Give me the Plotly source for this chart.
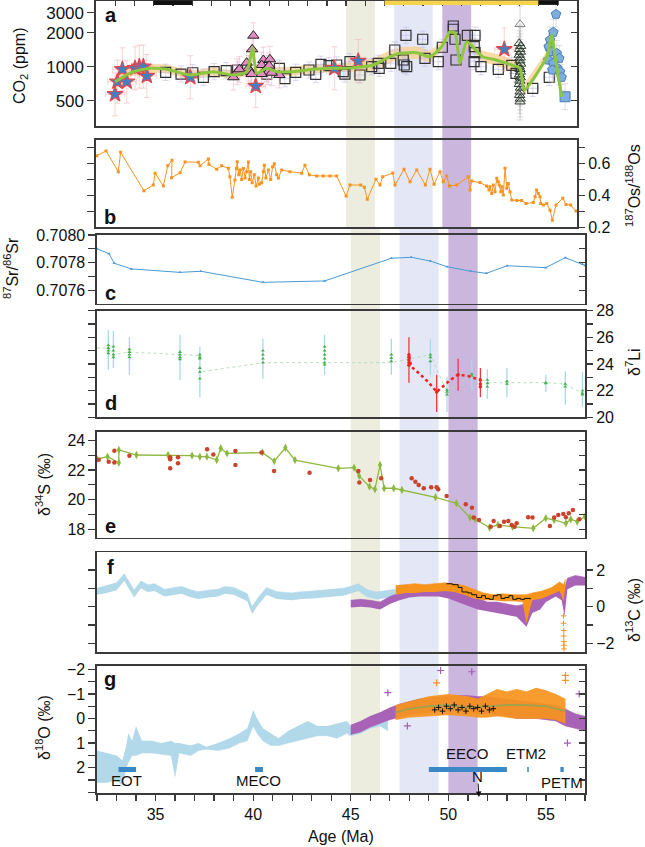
import plotly.graph_objects as go

W, H = 645, 847
FONT = "Liberation Sans, Arial, Helvetica, sans-serif"
AX = "#3a3a3a"

# ---------------- data ----------------
age_range = [32, 57]
bands = [(45.0, 46.5, "#ededdf"), (47.5, 49.5, "#e4e7f6"), (50.0, 51.5, "#cbb7de")]

# panel a: CO2 (ppm)
sq_age = [35.62, 36.42, 37.03, 37.58, 38.14, 38.77, 39.36, 40.87, 41.53, 41.82, 42.38, 43.07, 43.42, 43.69,
          44.11, 44.51, 44.85, 44.94, 45.20, 45.72, 46.33, 46.67, 46.72, 47.32, 47.53, 47.97, 48.02, 48.15,
          48.11, 48.98, 49.1, 49.79, 50.0, 50.57, 50.57, 50.66, 50.71, 51.30, 51.70, 51.66, 51.7, 51.65,
          52.01, 52.91, 53.61, 53.83, 54.70, 55.56]
sq_co2 = [892, 861, 884, 806, 903, 922, 935, 861, 968, 783, 892, 935, 856, 1050, 1020, 1035, 903, 861, 1107,
          844, 1000, 1072, 968, 1072, 1406, 1146, 1035, 1000, 1897, 1749, 1187, 1107, 1486, 2293, 2145, 1749,
          1146, 1897, 1897, 1503, 1330, 1107, 1000, 948, 1029, 874, 644, 806]
st_age = [32.99, 33.11, 33.37, 33.6, 34.03, 34.25, 34.46, 34.64, 36.9, 40.3, 44.39, 45.63, 53.22]
st_co2 = [570, 736, 948, 736, 968, 1000, 1000, 827, 806, 675, 968, 1123, 1426]
pt_age = [40.18, 40.12, 39.83, 39.92, 40.04, 40.09, 40.70, 41.04, 40.61, 40.87, 40.96, 40.61, 41.0, 41.53,
          39.14, 39.34, 39.45, 41.13]
pt_co2 = [1882, 1426, 1085, 968, 903, 861, 1146, 1163, 1035, 968, 903, 861, 1020, 844, 806, 903, 948, 884]
ot_age = [54.04, 54.0, 54.07, 54.02, 54.06, 54.0, 54.05, 54.03, 54.07, 54.0, 54.04, 54.06, 54.01, 54.05,
          54.03, 54.0, 54.06, 54.04, 54.02, 54.05, 54.04]
ot_co2 = [2377, 1610, 1520, 1430, 1350, 1270, 1200, 1130, 1060, 1000, 950, 900, 850, 800, 750, 700, 650,
          600, 560, 520, 490]
bp_age = [55.91, 55.77, 55.6, 55.53, 55.65, 55.95, 56.08, 55.51, 55.77, 55.98, 56.12, 56.2, 55.72, 56.38]
bp_co2 = [2912, 2018, 1723, 1503, 1358, 1313, 1187, 1146, 1072, 968, 903, 806, 935, 542]
fit_age = [33.0, 33.5, 33.94, 34.8, 35.67, 36.9, 38.1, 39.14, 39.83, 40.14, 40.35, 40.87, 41.4, 42.26, 43.3,
           44.16, 44.5, 45.37, 46.41, 47.1, 47.8, 48.67, 49.36, 49.97, 50.4, 50.66, 50.92, 51.27, 52.1, 52.8,
           53.6, 54.04, 54.25, 55.43, 55.68, 55.9, 56.2]
fit_co2 = [736, 830, 903, 968, 948, 844, 903, 844, 903, 1455, 874, 968, 903, 903, 948, 968, 968, 980, 1035,
           1187, 1313, 1330, 1226, 1503, 2040, 1975, 1072, 1665, 1226, 1146, 1035, 968, 622, 1226, 1900, 1120, 542]
fit_hi = [800, 900, 980, 1050, 1040, 920, 980, 920, 1000, 1600, 960, 1060, 990, 990, 1040, 1060, 1060, 1080,
          1170, 1340, 1480, 1500, 1380, 1650, 2200, 2150, 1200, 1800, 1370, 1290, 1170, 1090, 700, 1350, 2050,
          1260, 600]
fit_lo = [680, 760, 830, 890, 870, 775, 830, 775, 830, 1320, 800, 890, 830, 830, 870, 890, 890, 900, 920,
          1050, 1160, 1170, 1090, 1370, 1890, 1830, 960, 1530, 1100, 1020, 920, 860, 560, 1110, 1750, 1000, 490]
sq_err, st_err, pt_err, ot_err, bp_err = 1.18, 1.55, 1.3, 1.45, 1.3   # multiplicative 1-sigma factors
sq_xerr, st_xerr = 0.3, 0.5

# panel b: 187Os/188Os
os_age = [32.04, 32.52, 33.16, 33.28, 34.49, 34.98, 35.07, 35.5, 35.73, 35.95, 35.93, 36.37, 36.63, 37.32,
          37.41, 37.84, 37.87, 38.27, 38.53, 38.88, 38.96, 39.08, 39.22, 39.3, 39.34, 39.42, 39.5, 39.57, 39.66,
          39.75, 39.83, 39.92, 39.97, 40.04, 40.12, 40.23, 40.32, 40.44, 40.49, 40.61, 40.7, 40.75, 40.83,
          40.96, 41.08, 41.18, 41.27, 41.39, 41.48, 41.65, 42.08, 42.69, 42.86, 43.09, 43.47, 43.81, 44.16,
          44.51, 45.0, 45.2, 45.76, 45.95, 46.1, 46.55, 46.76, 46.9, 47.42, 47.54, 48.01, 48.32, 48.67, 49.12,
          49.36, 49.57, 49.88, 50.05, 50.23, 50.37, 50.75, 51.35, 51.44, 51.53, 51.96, 52.3, 52.43, 52.48,
          52.57, 52.65, 52.74, 52.83, 52.91, 52.96, 53.04, 53.09, 53.17, 53.26, 53.35, 53.43, 53.52, 53.61,
          53.87, 54.12, 54.35, 54.73, 54.82, 54.9, 54.99, 55.08, 55.11, 55.25, 55.43, 55.6, 55.72, 55.91,
          56.26, 56.43, 56.67, 56.95]
os_val = [0.650, 0.680, 0.550, 0.672, 0.430, 0.466, 0.540, 0.460, 0.587, 0.621, 0.512, 0.543, 0.611, 0.609,
          0.587, 0.630, 0.596, 0.565, 0.587, 0.571, 0.518, 0.389, 0.497, 0.57, 0.612, 0.53, 0.56, 0.50, 0.57,
          0.51, 0.55, 0.61, 0.50, 0.55, 0.48, 0.53, 0.46, 0.51, 0.47, 0.48, 0.55, 0.59, 0.51, 0.56, 0.50, 0.58,
          0.60, 0.53, 0.51, 0.56, 0.55, 0.54, 0.59, 0.53, 0.523, 0.523, 0.523, 0.523, 0.397, 0.466, 0.466,
          0.452, 0.376, 0.502, 0.466, 0.518, 0.541, 0.466, 0.565, 0.487, 0.561, 0.466, 0.565, 0.470, 0.550,
          0.487, 0.523, 0.460, 0.466, 0.518, 0.434, 0.491, 0.481, 0.460, 0.434, 0.455, 0.413, 0.466, 0.424,
          0.508, 0.487, 0.466, 0.424, 0.455, 0.403, 0.571, 0.445, 0.476, 0.424, 0.371, 0.369, 0.369, 0.350,
          0.356, 0.392, 0.434, 0.413, 0.392, 0.350, 0.340, 0.350, 0.308, 0.245, 0.340, 0.382, 0.344, 0.340,
          0.302]

# panel c: 87Sr/86Sr
sr_age = [32.0, 32.62, 32.88, 33.76, 36.25, 37.32, 40.5, 43.66, 47.08, 48.1, 49.08, 49.93, 51.15, 51.94,
          53.01, 54.99, 55.99, 56.87, 57.0]
sr_val = [0.70790, 0.707865, 0.707796, 0.707755, 0.707730, 0.707738, 0.707658, 0.707668, 0.707832, 0.707839,
          0.707812, 0.707771, 0.707738, 0.707723, 0.707778, 0.707764, 0.707836, 0.707788, 0.707780]

# panel d: d7Li
li_age = [32.58, 32.84, 33.66, 36.25, 37.27, 40.5, 43.66, 47.08, 49.08, 49.93, 51.2, 52.0, 53.0, 54.99,
          55.99, 56.87]
li_vals = [[25.4, 25.2, 25.0, 24.8], [25.3, 25.0, 24.7, 24.5], [25.1, 24.9, 24.7, 24.5],
           [24.9, 24.7, 24.5, 24.35], [24.7, 24.5, 24.4, 23.7, 23.4, 22.9], [25.0, 24.7, 24.4, 24.1],
           [25.3, 25.0, 24.7, 24.4, 24.1, 23.95], [24.7, 24.45, 24.2], [24.7, 24.5, 24.2], [22.05, 21.9, 21.7],
           [23.25, 23.1], [22.8, 22.55, 22.3], [22.7, 22.5], [22.6, 22.55], [22.5, 22.3], [22.0, 21.8, 21.7]]
li_err_mid = [25.05, 25.1, 24.6, 24.5, 23.4, 24.4, 24.7, 24.55, 24.55, 21.7, 23.2, 22.5, 22.6, 22.55, 22.2, 22.1]
li_err = [1.5, 1.4, 1.4, 1.7, 1.9, 1.5, 1.5, 1.35, 1.35, 1.3, 1.2, 1.1, 1.1, 0.65, 1.25, 1.3]
li_line_age = [32.0, 32.58, 32.84, 33.66, 36.25, 37.27, 37.27, 40.5, 43.66, 47.08, 49.08, 49.93, 51.2, 52.0,
               53.0, 54.99, 55.99, 56.87]
li_line_val = [25.2, 25.2, 24.7, 24.9, 24.7, 24.65, 23.4, 24.1, 24.1, 24.1, 24.7, 21.9, 23.2, 22.6, 22.6,
               22.6, 22.5, 21.8]
lir_age = [47.98, 48.1, 48.5, 49.0, 49.4, 49.7, 50.1, 50.5, 51.0, 51.64]
lir_val = [24.6, 23.8, 23.3, 22.6, 21.9, 22.3, 22.8, 23.2, 23.1, 22.8]
lir_pt_age = [47.98, 47.98, 47.98, 47.98, 47.98, 49.4, 50.5, 51.64, 51.64, 51.64]
lir_pt_val = [24.7, 24.5, 24.3, 24.1, 23.9, 21.9, 23.2, 22.8, 22.5, 22.3]
lir_err_age = [47.98, 49.4, 50.5, 51.64]
lir_err_mid = [24.3, 21.8, 23.2, 22.6]
lir_err = [1.7, 1.4, 1.2, 1.1]

# panel e: d34S
s_age = [32.0, 32.54, 33.12, 33.12, 34.02, 35.64, 36.87, 37.27, 37.63, 38.13, 38.34, 38.66, 40.48, 41.08,
         41.65, 42.14, 44.36, 45.17, 45.43, 45.96, 46.24, 46.5, 46.71, 47.2, 47.62, 49.34, 50.41, 51.11, 51.37,
         52.11, 52.54, 53.29, 54.35, 54.99, 55.42, 56.02, 56.27, 56.6, 57.0]
s_val = [22.74, 22.9, 22.49, 23.35, 23.01, 23.01, 22.97, 22.9, 22.9, 22.67, 23.46, 23.12, 23.17, 22.6, 23.5,
         22.67, 22.11, 22.16, 21.6, 20.88, 20.7, 22.34, 20.77, 20.77, 20.65, 20.16, 19.76, 18.79, 18.68,
         18.12, 18.3, 18.18, 18.07, 18.75, 18.63, 18.41, 18.68, 18.52, 18.86]
sr2_age = [32.09, 32.6, 32.89, 32.89, 33.66, 35.75, 35.75, 35.75, 36.15, 36.15, 37.64, 37.96, 39.09, 40.43,
           39.09, 41.07, 42.89, 45.39, 45.44, 45.99, 46.56, 48.12, 48.31, 48.48, 48.74, 49.12, 49.4, 49.48,
           49.91, 50.89, 51.21, 51.3, 51.57, 52.17, 52.32, 52.64, 52.85, 53.07, 53.24, 53.5, 53.39, 54.09,
           54.31, 55.2, 55.42, 55.63, 55.89, 56.02, 56.17, 56.38, 56.71]
sr2_val = [22.69, 22.56, 23.3, 22.5, 22.96, 22.85, 22.73, 22.11, 22.85, 22.45, 23.39, 23.05, 23.28, 23.17,
           22.34, 21.93, 21.82, 21.93, 21.15, 21.33, 21.44, 21.44, 21.21, 20.99, 20.77, 20.83, 20.83, 20.7,
           20.25, 19.69, 19.46, 18.79, 18.63, 18.18, 18.57, 18.23, 18.52, 18.57, 18.3, 18.41, 18.18, 18.81,
           18.79, 18.23, 18.79, 18.97, 19.04, 18.81, 19.08, 19.3, 18.68]

# panel f: d13C
cb_age = [32.0, 32.5, 33.0, 33.4, 33.9, 34.25, 34.6, 34.94, 35.46, 36.0, 36.33, 36.8, 37.19, 37.7, 38.2,
          38.56, 39.0, 39.41, 39.7, 39.94, 40.1, 40.26, 40.69, 41.2, 41.97, 42.5, 43.04, 43.6, 44.1, 44.6,
          44.96, 45.39, 45.82, 46.3, 46.67, 47.0, 47.3]
cb_lo = [0.65, 0.75, 0.9, 1.4, 0.5, 1.0, 0.8, 0.85, 0.55, 0.65, 0.7, 0.52, 0.42, 0.5, 0.55, 0.7, 0.65,
         0.45, 0.3, -0.4, -0.15, 0.1, 0.65, 0.42, 0.35, 0.42, 0.45, 0.5, 0.57, 0.6, 0.7, 0.85, 0.53, 0.4,
         0.45, 0.5, 0.55]
cb_hi = [1.0, 1.15, 1.3, 1.8, 0.9, 1.4, 1.2, 1.25, 0.95, 1.05, 1.1, 0.92, 0.82, 0.9, 0.95, 1.1, 1.05,
         0.85, 0.7, 0.0, 0.25, 0.5, 1.05, 0.82, 0.75, 0.82, 0.85, 0.9, 0.97, 1.0, 1.1, 1.25, 0.93, 0.8, 0.85,
         0.9, 0.95]
cp_age = [45.0, 45.5, 46.0, 46.5, 47.0, 47.5, 48.0, 48.5, 49.0, 49.5, 50.0, 50.5, 51.0, 51.5, 52.0, 52.5,
          53.0, 53.5, 54.0, 54.3, 54.7, 55.0, 55.5, 55.8, 55.95, 56.1, 56.5, 57.0]
cp_lo = [-0.05, 0.0, -0.05, -0.15, 0.15, 0.35, 0.5, 0.55, 0.55, 0.55, 0.45, 0.25, 0.05, -0.15, -0.25, -0.35,
         -0.45, -0.55, -1.1, -0.35, -0.15, 0.25, 0.55, 0.35, -0.5, 0.95, 1.15, 1.15]
cp_hi = [0.35, 0.4, 0.35, 0.25, 0.55, 0.75, 0.85, 0.95, 0.95, 1.0, 1.0, 0.85, 0.65, 0.45, 0.25, 0.25, 0.15,
         0.05, 0.15, 0.35, 0.55, 0.8, 1.05, 1.25, 0.95, 1.55, 1.7, 1.6]
co_age = [47.3, 47.8, 48.3, 48.8, 49.3, 49.8, 50.3, 50.8, 51.3, 51.8, 52.3, 52.8, 53.3, 53.8, 54.0, 54.3,
          54.8, 55.3, 55.7, 55.9, 56.0]
co_lo = [0.65, 0.75, 0.75, 0.8, 0.8, 0.85, 0.8, 0.65, 0.45, 0.35, 0.35, 0.3, 0.3, 0.25, -0.9, 0.35, 0.45,
         0.65, 0.85, 0.3, 1.1]
co_hi = [1.15, 1.2, 1.25, 1.2, 1.25, 1.3, 1.25, 1.15, 0.95, 0.75, 0.65, 0.7, 0.65, 0.65, 0.65, 0.75, 0.85,
         1.05, 1.35, 1.2, 1.5]
cpetm_age = [55.9, 55.9, 55.91, 55.91, 55.92, 55.92, 55.92]
cpetm_val = [-0.5, -0.9, -1.3, -1.6, -1.9, -2.1, -2.3]
cblk_age = [49.9, 50.2, 50.5, 50.7, 51.0, 51.2, 51.45, 51.7, 51.9, 52.1, 52.3, 52.5, 52.7, 52.9, 53.1, 53.3,
            53.5, 53.7, 53.9, 54.2]
cblk_val = [1.25, 1.2, 1.05, 0.8, 0.75, 0.65, 0.5, 0.6, 0.45, 0.4, 0.6, 0.65, 0.45, 0.5, 0.6, 0.4, 0.45,
            0.4, 0.45, 0.4]

# panel g: d18O
ob_age = [32.0, 32.5, 33.0, 33.3, 33.5, 33.6, 33.8, 34.0, 34.3, 34.8, 35.3, 35.8, 36.0, 36.2, 36.8, 37.2,
          37.6, 38.2, 38.8, 39.3, 39.7, 40.0, 40.2, 40.5, 40.9, 41.3, 41.8, 42.3, 42.8, 43.3, 43.8, 44.3,
          44.8, 45.0, 45.5, 46.0, 46.5, 46.9]
ob_lo = [1.3, 1.4, 1.5, 1.7, 1.1, 0.6, 0.9, 0.3, 0.9, 0.9, 1.0, 0.9, 1.0, 1.0, 1.1, 1.0, 1.15, 1.0, 0.8,
         0.6, 0.4, -0.35, 0.0, 0.4, 0.6, 0.8, 0.5, 0.3, 0.1, 0.3, 0.3, 0.2, 0.1, 0.3, 0.2, -0.1, -0.2, -0.3]
ob_hi = [2.6, 2.6, 2.5, 2.7, 2.0, 1.8, 1.5, 1.5, 1.4, 1.4, 1.45, 1.5, 2.35, 1.4, 1.5, 1.3, 1.25, 1.3, 1.2,
         1.0, 0.9, 0.3, 0.6, 0.9, 1.1, 1.1, 1.0, 0.9, 0.8, 0.7, 0.7, 0.8, 0.6, 0.7, 0.6, 0.4, 0.3, 0.5]
op_age = [45.0, 45.5, 46.0, 46.5, 47.0, 47.5, 48.0, 48.5, 49.0, 49.5, 50.0, 50.5, 51.0, 51.5, 52.0, 52.5,
          53.0, 53.5, 54.0, 54.5, 55.0, 55.5, 56.0, 56.5, 57.0]
op_lo = [0.25, 0.1, -0.1, -0.25, -0.45, -0.6, -0.7, -0.8, -0.85, -0.9, -0.9, -0.95, -0.95, -0.9, -0.9,
         -0.85, -0.8, -0.75, -0.7, -0.65, -0.6, -0.55, -0.4, -0.2, -0.1]
op_hi = [0.65, 0.55, 0.35, 0.2, 0.05, -0.05, -0.15, -0.2, -0.25, -0.3, -0.3, -0.3, -0.25, -0.2, -0.2, -0.15,
         -0.1, 0.0, 0.0, 0.0, 0.05, 0.1, 0.3, 0.4, 0.5]
oo_age = [47.3, 48.0, 49.0, 50.0, 51.0, 51.5, 52.0, 52.5, 53.0, 53.5, 54.0, 54.5, 55.0, 55.5, 56.0]
oo_lo = [-0.55, -0.7, -0.9, -1.0, -0.9, -0.8, -1.0, -1.2, -1.1, -1.2, -1.1, -1.25, -1.15, -1.0, -0.8]
oo_hi = [0.05, -0.05, -0.1, -0.15, -0.1, -0.05, -0.05, -0.1, -0.05, 0.0, 0.0, 0.0, 0.0, 0.05, 0.2]
ol_age = [47.3, 48.0, 49.0, 50.0, 51.0, 52.0, 53.0, 54.0, 55.0, 56.0]
ol_val = [-0.25, -0.4, -0.5, -0.55, -0.45, -0.5, -0.55, -0.55, -0.5, -0.3]
oblk_age = [49.3, 49.5, 49.7, 49.9, 50.1, 50.3, 50.5, 50.7, 50.9, 51.1, 51.3, 51.5, 51.7, 51.9, 52.1, 52.3]
oblk_val = [-0.35, -0.45, -0.3, -0.5, -0.4, -0.55, -0.35, -0.45, -0.3, -0.5, -0.4, -0.45, -0.3, -0.5, -0.35, -0.4]
opo_age = [46.9, 49.6, 51.2, 56.7, 56.1, 47.9]
opo_val = [-1.05, -1.95, -1.9, -1.0, 1.0, 0.3]
ooo_age = [49.4, 56.0, 56.0]
ooo_val = [-1.45, -1.75, -1.55]
events = [("EOT", 33.1, 34.0), ("MECO", 40.1, 40.5), ("EECO", 49.0, 53.0), ("ETM2", 54.04, 54.12),
          ("PETM", 55.74, 55.91)]

# ---------------- layout geometry (pixels) ----------------
def fx(px): return px / W
def fy(py): return 1 - py / H

XA = [fx(96), fx(577)]
XC = [fx(97), fx(585)]
ytop = [0.5, 140, 235, 310.7, 431.7, 552.2, 665.7]
ybot = [126, 227.3, 303.5, 417.3, 537.8, 652, 793.3]

def xa(i): return "x" if i == 1 else f"x{i}"
def ya(i): return "y" if i == 1 else f"y{i}"

fig = go.Figure()

def sc(i, **kw):
    kw.setdefault("showlegend", False)
    kw.setdefault("hoverinfo", "skip")
    fig.add_trace(go.Scatter(xaxis=xa(i), yaxis=ya(i), **kw))

def band(i, x, lo, hi, color):
    sc(i, x=x, y=lo, mode="lines", line=dict(width=0, color=color))
    sc(i, x=x, y=hi, mode="lines", line=dict(width=0.6, color=color), fill="tonexty", fillcolor=color)

def logerr(vals, f):
    return dict(type="data", symmetric=False, array=[v * (f - 1) for v in vals],
                arrayminus=[v * (1 - 1 / f) for v in vals])

# ---- panel a ----
band(1, fit_age, fit_lo, fit_hi, "rgba(247,205,140,0.75)")
err_sq = logerr(sq_co2, sq_err); err_sq.update(color="rgba(190,190,235,0.6)", thickness=1, width=3)
sc(1, x=sq_age, y=sq_co2, mode="markers", error_y=err_sq,
   error_x=dict(type="constant", value=sq_xerr, color="rgba(190,190,235,0.6)", thickness=1, width=3),
   marker=dict(symbol="square-open", size=10, color="#333333", line=dict(width=1.2)))
err_pt = logerr(pt_co2, pt_err); err_pt.update(color="rgba(240,170,195,0.55)", thickness=1, width=3)
sc(1, x=pt_age, y=pt_co2, mode="markers", error_y=err_pt,
   marker=dict(symbol="triangle-up", size=10, color="#e58cc4", line=dict(color="#222222", width=1)))
err_ot = logerr(ot_co2, ot_err); err_ot.update(color="rgba(190,190,190,0.6)", thickness=1, width=3)
sc(1, x=ot_age, y=ot_co2, mode="markers", error_y=err_ot,
   marker=dict(symbol="triangle-up-open", size=9, color=["#888888"] + ["#2b3a2b"] * 20, line=dict(width=1)))
err_bp = logerr(bp_co2, bp_err); err_bp.update(color="rgba(200,200,200,0.6)", thickness=1, width=3)
sc(1, x=bp_age, y=bp_co2, mode="markers", error_y=err_bp,
   marker=dict(symbol=["pentagon"] * 13 + ["square"], size=10, color="#7eaee0",
               line=dict(color="#4d7db5", width=1)))
err_st = logerr(st_co2, st_err); err_st.update(color="rgba(245,170,170,0.5)", thickness=1, width=3)
sc(1, x=st_age, y=st_co2, mode="markers", error_y=err_st,
   error_x=dict(type="constant", value=st_xerr, color="rgba(245,170,170,0.5)", thickness=1, width=3),
   marker=dict(symbol="star", size=12, color="#3f7fc4", line=dict(color="#e8474c", width=1.2)))
sc(1, x=fit_age, y=fit_co2, mode="lines", line=dict(color="#8dc63f", width=3, shape="spline", smoothing=0.6))

# ---- panel b ----
sc(2, x=os_age, y=os_val, mode="lines+markers", line=dict(color="#f7931e", width=1),
   marker=dict(symbol="square", size=3, color="#f7931e"))

# ---- panel c ----
sc(3, x=sr_age, y=sr_val, mode="lines+markers", line=dict(color="#4a9bd6", width=1),
   marker=dict(symbol="triangle-up", size=3, color="#4a9bd6"))

# ---- panel d ----
sc(4, x=li_age, y=li_err_mid, mode="markers", marker=dict(size=1, color="rgba(0,0,0,0)"),
   error_y=dict(type="data", array=li_err, color="#a9d8ea", thickness=1.3, width=0))
sc(4, x=li_line_age, y=li_line_val, mode="lines", line=dict(color="#b9dcb9", width=1, dash="dot"))
pts_x = [a for a, vs in zip(li_age, li_vals) for _ in vs]
pts_y = [v for vs in li_vals for v in vs]
sc(4, x=pts_x, y=pts_y, mode="markers", marker=dict(symbol="triangle-up", size=3.5, color="#3fb34a"))
sc(4, x=lir_err_age, y=lir_err_mid, mode="markers", marker=dict(size=1, color="rgba(0,0,0,0)"),
   error_y=dict(type="data", array=lir_err, color="#ee3b3b", thickness=1.3, width=0))
sc(4, x=lir_age, y=lir_val, mode="lines", line=dict(color="#ee2222", width=2.5, dash="dot"))
sc(4, x=lir_pt_age, y=lir_pt_val, mode="markers", marker=dict(size=3.5, color="#ee2222"))

# ---- panel e ----
sc(5, x=s_age, y=s_val, mode="lines+markers", line=dict(color="#8db83f", width=1.3),
   marker=dict(symbol="diamond-tall", size=6, color="#8db83f"))
sc(5, x=sr2_age, y=sr2_val, mode="markers", marker=dict(size=4.5, color="#c9442c"))

# ---- panel f ----
band(6, cb_age, cb_lo, cb_hi, "#b2d9ea")
band(6, cp_age, cp_lo, cp_hi, "#a862b6")
band(6, co_age, co_lo, co_hi, "#f7941d")
sc(6, x=cpetm_age, y=cpetm_val, mode="markers", marker=dict(symbol="cross-thin-open", size=4, color="#f7941d",
                                                         line=dict(width=1, color="#f7941d")))
sc(6, x=cblk_age, y=cblk_val, mode="lines", line=dict(color="#111111", width=1, shape="hv"))

# ---- panel g ----
band(7, ob_age, ob_lo, ob_hi, "#b2d9ea")
band(7, op_age, op_lo, op_hi, "#a862b6")
band(7, oo_age, oo_lo, oo_hi, "rgba(247,148,29,0.92)")
sc(7, x=ol_age, y=ol_val, mode="lines", line=dict(color="#a6a04a", width=2))
sc(7, x=oblk_age, y=oblk_val, mode="markers", marker=dict(symbol="cross-thin-open", size=4, color="#111111",
                                                       line=dict(width=1, color="#111111")))
sc(7, x=opo_age, y=opo_val, mode="markers", marker=dict(symbol="cross-thin-open", size=5, color="#a65bb4",
                                                     line=dict(width=1.2, color="#a65bb4")))
sc(7, x=ooo_age, y=ooo_val, mode="markers", marker=dict(symbol="cross-thin-open", size=5, color="#f7941d",
                                                     line=dict(width=1.2, color="#f7941d")))

# dummy traces for right-side axes
for i in range(1, 8):
    fig.add_trace(go.Scatter(x=[None], y=[None], xaxis=xa(i), yaxis=f"y{7 + i}", showlegend=False,
                             hoverinfo="skip"))

# ---------------- axes ----------------
tickfont = dict(family=FONT, size=16, color="#111111")
lay = {}
for i in range(1, 8):
    k = "xaxis" if i == 1 else f"xaxis{i}"
    lay[k] = dict(domain=XA if i <= 2 else XC, anchor=ya(i), range=age_range, showline=True, mirror=True,
                  linecolor=AX, linewidth=1.6, showgrid=False, zeroline=False, ticks="", showticklabels=False,
                  fixedrange=True, automargin=False)

lay["xaxis"].update(side="top", ticks="inside", dtick=1, tick0=32, ticklen=5, tickwidth=1.3, tickcolor=AX)
lay["xaxis7"].update(ticks="outside", tickvals=[35, 40, 45, 50, 55], ticklen=6, tickwidth=1.3, tickcolor=AX,
                     showticklabels=True, tickfont=tickfont,
                     minor=dict(dtick=1, tick0=32, ticks="outside", ticklen=6, tickwidth=1.3, tickcolor=AX))

yrng = [[2.475, 3.586], [0.2, 0.749], [0.707505, 0.70800], [20, 28], [17.43, 24.58], [-2.47, 2.97],
        [3.04, -2.146]]

def frange(a, b, s):
    out, v = [], a
    while v <= b + 1e-9:
        out.append(round(v, 6)); v += s
    return out

left = [
    dict(type="log", tickvals=[500, 1000, 2000, 3000], ticktext=["500", "1000", "2000", "3000"], lab=True),
    dict(tickvals=frange(0.3, 0.7, 0.1), lab=False),
    dict(tickvals=frange(0.7075, 0.7080, 0.0001),
         ticktext=["", "0.7076", "", "0.7078", "", "0.7080"], lab=True),
    dict(tickvals=frange(20, 28, 1), lab=False),
    dict(tickvals=frange(18, 24, 1), ticktext=["18", "", "20", "", "22", "", "24"], lab=True),
    dict(tickvals=frange(-2, 2, 1), lab=False),
    dict(tickvals=frange(-2, 3, 0.5), ticktext=["−2", "", "−1", "", "0", "", "1", "", "2", "", ""], lab=True),
]
right = [
    dict(type="log", tickvals=[500, 1000, 2000, 3000], ticks="inside", lab=False),
    dict(tickvals=frange(0.2, 0.7, 0.1), ticktext=["0.2", "", "0.4", "", "0.6", ""], ticks="outside", lab=True),
    dict(tickvals=frange(0.7075, 0.7080, 0.0001), ticks="inside", lab=False),
    dict(tickvals=frange(20, 28, 1), ticktext=["20", "", "22", "", "24", "", "26", "", "28"], ticks="outside",
         lab=True),
    dict(tickvals=frange(18, 24, 1), ticks="inside", lab=False),
    dict(tickvals=frange(-2, 2, 1), ticktext=["−2", "", "0", "", "2"], ticks="outside", lab=True),
    dict(tickvals=frange(-2, 3, 0.5), ticks="inside", lab=False),
]

for i in range(1, 8):
    top, bot = ytop[i - 1], ybot[i - 1]
    dom = [fy(bot), fy(top)]
    L = left[i - 1]
    k = "yaxis" if i == 1 else f"yaxis{i}"
    d = dict(domain=dom, anchor=xa(i), range=yrng[i - 1], showline=True, mirror=True, linecolor=AX,
             linewidth=1.6, showgrid=False, zeroline=False, ticks="outside", ticklen=7, tickwidth=1.3,
             tickcolor=AX, tickvals=L["tickvals"], showticklabels=L["lab"], tickfont=tickfont,
             fixedrange=True, automargin=False)
    if "type" in L: d["type"] = L["type"]
    if "ticktext" in L: d["ticktext"] = L["ticktext"]
    if i == 1: d["tickfont"] = dict(family=FONT, size=17, color="#111111")
    lay[k] = d
    R = right[i - 1]
    r = dict(domain=dom, anchor=xa(i), overlaying=ya(i), side="right", range=yrng[i - 1], showline=False,
             showgrid=False, zeroline=False, ticks=R["ticks"], ticklen=7 if R["ticks"] == "outside" else 6,
             tickwidth=1.3, tickcolor=AX, tickvals=R["tickvals"], showticklabels=R["lab"], tickfont=tickfont,
             fixedrange=True, automargin=False)
    if "type" in R: r["type"] = R["type"]
    if "ticktext" in R: r["ticktext"] = R["ticktext"]
    lay[f"yaxis{7 + i}"] = r

# ---------------- shapes ----------------
shapes = []
for a0, a1, col in bands:
    shapes.append(dict(type="rect", xref="x", yref="paper", x0=a0, x1=a1, y0=fy(ybot[1]), y1=1.0,
                       fillcolor=col, line=dict(width=0), layer="below"))
    shapes.append(dict(type="rect", xref="x3", yref="paper", x0=a0, x1=a1, y0=fy(ybot[6]), y1=fy(ybot[1]),
                       fillcolor=col, line=dict(width=0), layer="below"))
# marker bars on top of panel a
for a0, a1, col in [(35.0, 37.0, "#111111"), (47.0, 55.0, "#f5d34f"), (55.0, 56.05, "#111111")]:
    shapes.append(dict(type="rect", xref="x", yref="y domain", x0=a0, x1=a1, y0=0.965, y1=1.0,
                       fillcolor=col, line=dict(width=0), layer="above"))
for name, a0, a1 in events:
    shapes.append(dict(type="line", xref="x7", yref="y7", x0=a0, x1=a1, y0=2.07, y1=2.07,
                       line=dict(color="#3b88c6", width=5), layer="above"))

# ---------------- annotations ----------------
ann = []
def txt(x, y, s, size=16, bold=False, angle=0, xref="paper", yref="paper", xanchor="center"):
    ann.append(dict(x=x, y=y, xref=xref, yref=yref, text=f"<b>{s}</b>" if bold else s, showarrow=False,
                    textangle=angle, xanchor=xanchor, yanchor="middle",
                    font=dict(family=FONT, size=size, color="#111111")))

for lab, (px, py) in zip("abcdefg", [(111, 15), (110, 216.5), (110, 293), (110.5, 403), (110, 526),
                                     (110, 566.5), (110, 678.5)]):
    txt(fx(px), fy(py), lab, size=20, bold=True)

txt(fx(20), fy(66), "CO<sub>2</sub> (ppm)", size=16, angle=-90)
txt(fx(11), fy(268), "<sup>87</sup>Sr/<sup>86</sup>Sr", size=16, angle=-90)
txt(fx(43), fy(485), "δ<sup>34</sup>S (‰)", size=16, angle=-90)
txt(fx(43), fy(728), "δ<sup>18</sup>O (‰)", size=16, angle=-90)
txt(fx(645), fy(186), "<sup>187</sup>Os/<sup>188</sup>Os", size=16, angle=-90, xanchor="right")
txt(fx(645), fy(362), "δ<sup>7</sup>Li", size=16, angle=-90, xanchor="right")
txt(fx(645), fy(610), "δ<sup>13</sup>C (‰)", size=16, angle=-90, xanchor="right")
txt(fx(341), fy(836.5), "Age (Ma)", size=16)

txt(33.5, 2.52, "EOT", size=15, xref="x7", yref="y7")
txt(40.26, 2.52, "MECO", size=15, xref="x7", yref="y7")
txt(50.98, 1.42, "EECO", size=15, xref="x7", yref="y7")
txt(53.98, 1.42, "ETM2", size=15, xref="x7", yref="y7")
txt(57.0, 2.6, "PETM", size=15, xref="x7", yref="y7", xanchor="right")
txt(51.48, 2.36, "N", size=15, xref="x7", yref="y7")
ann.append(dict(x=51.57, y=fy(797), xref="x7", yref="paper", ax=-1, ay=-15, text="", showarrow=True,
                arrowhead=2, arrowsize=1.1, arrowwidth=1, arrowcolor="#111111"))

fig.update_layout(width=W, height=H, margin=dict(l=0, r=0, t=0, b=0, pad=0, autoexpand=False), autosize=False,
                  paper_bgcolor="white", plot_bgcolor="rgba(0,0,0,0)", showlegend=False,
                  shapes=shapes, annotations=ann, font=dict(family=FONT), **lay)

fig.write_html("out.html", config={"displayModeBar": False, "staticPlot": True},
               post_script="document.body.style.margin='0px';document.body.style.padding='0px';"
                           "document.body.style.overflow='hidden';")
